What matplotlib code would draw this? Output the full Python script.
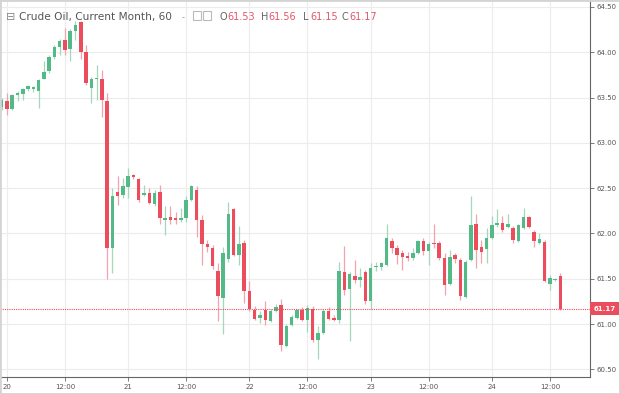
import numpy as np
import matplotlib.pyplot as plt
from matplotlib.patches import Rectangle
from matplotlib.transforms import IdentityTransform

# hourly candles, 23 bars per trading day
opens = [63.40, 63.46, 63.37, 63.53, 63.54, 63.59, 63.60, 63.57, 63.71, 63.79,
         63.95, 64.06, 64.14, 64.04, 64.23, 64.33, 64.00, 63.61, 63.70, 63.70,
         63.46, 61.84, 62.46, 62.43, 62.51, 62.64, 62.60, 62.43, 62.45, 62.32,
         62.46, 62.15, 62.18, 62.17, 62.15, 62.17, 62.37, 62.48, 62.15, 61.88,
         61.84, 61.59, 61.29, 61.72, 62.27, 61.76, 61.90, 61.36, 61.16, 61.07,
         61.15, 61.03, 61.14, 61.21, 60.76, 60.99, 61.07, 61.15, 61.05, 61.17,
         60.82, 60.90, 61.14, 61.07, 61.04, 61.57, 61.39, 61.53, 61.49, 61.58,
         61.25, 61.63, 61.63, 61.65, 61.92, 61.84, 61.78, 61.75, 61.73, 61.78,
         61.92, 61.81, 61.89, 61.89, 61.73, 61.44, 61.76, 61.71, 61.30, 61.71,
         62.10, 61.85, 61.83, 61.95, 62.09, 62.12, 62.07, 62.06, 61.92, 62.06,
         62.18, 62.02, 61.89, 61.91, 61.44, 61.49, 61.53]
highs = [63.49, 63.55, 63.54, 63.57, 63.61, 63.64, 63.63, 63.71, 63.90, 63.97,
         64.08, 64.15, 64.27, 64.26, 64.34, 64.35, 64.08, 63.73, 63.86, 63.80,
         63.55, 62.50, 62.63, 62.61, 62.72, 62.66, 62.61, 62.54, 62.50, 62.48,
         62.54, 62.30, 62.30, 62.24, 62.28, 62.41, 62.54, 62.52, 62.20, 61.93,
         61.87, 61.67, 61.85, 62.35, 62.28, 62.08, 61.93, 61.48, 61.20, 61.14,
         61.25, 61.17, 61.22, 61.28, 61.00, 61.10, 61.17, 61.19, 61.21, 61.20,
         60.98, 61.17, 61.19, 61.10, 61.69, 61.86, 61.58, 61.71, 61.62, 61.60,
         61.67, 61.69, 61.69, 62.10, 61.95, 61.87, 61.82, 61.80, 61.84, 61.93,
         61.95, 61.91, 62.10, 61.92, 61.78, 61.82, 61.78, 61.73, 61.71, 62.41,
         62.22, 61.93, 62.06, 62.19, 62.27, 62.19, 62.22, 62.08, 62.11, 62.28,
         62.19, 62.04, 62.00, 61.93, 61.54, 61.51, 61.56]
lows = [63.36, 63.31, 63.36, 63.46, 63.47, 63.57, 63.56, 63.38, 63.70, 63.77,
        63.93, 63.97, 63.97, 63.90, 64.14, 63.93, 63.64, 63.44, 63.47, 63.29,
        61.50, 61.56, 62.31, 62.39, 62.39, 62.60, 62.35, 62.41, 62.32, 62.30,
        62.11, 61.98, 62.11, 62.11, 62.13, 62.13, 62.36, 61.96, 61.65, 61.80,
        61.61, 61.03, 60.89, 61.69, 61.75, 61.65, 61.23, 61.14, 61.05, 61.01,
        60.99, 61.02, 61.13, 60.70, 60.75, 60.98, 61.06, 61.03, 60.91, 60.80,
        60.62, 60.89, 61.04, 61.03, 61.01, 61.32, 60.81, 61.45, 61.41, 61.22,
        61.17, 61.59, 61.60, 61.64, 61.78, 61.66, 61.60, 61.70, 61.71, 61.77,
        61.76, 61.65, 61.84, 61.71, 61.32, 61.43, 61.67, 61.27, 61.29, 61.70,
        61.62, 61.67, 61.67, 61.94, 62.07, 62.02, 62.06, 61.90, 61.91, 62.05,
        62.06, 61.85, 61.88, 61.46, 61.38, 61.48, 61.15]
closes = [63.47, 63.37, 63.53, 63.55, 63.59, 63.63, 63.61, 63.69, 63.78, 63.95,
          64.06, 64.12, 64.03, 64.23, 64.30, 64.00, 63.66, 63.71, 63.71, 63.47,
          61.84, 62.41, 62.41, 62.52, 62.63, 62.62, 62.37, 62.45, 62.34, 62.45,
          62.17, 62.17, 62.15, 62.15, 62.17, 62.37, 62.52, 62.15, 61.88, 61.85,
          61.64, 61.31, 61.78, 62.22, 61.76, 61.88, 61.36, 61.17, 61.06, 61.10,
          61.04, 61.14, 61.19, 60.77, 60.98, 61.08, 61.15, 61.04, 61.18, 60.82,
          60.90, 61.14, 61.06, 61.04, 61.59, 61.38, 61.55, 61.49, 61.52, 61.25,
          61.62, 61.64, 61.67, 61.95, 61.84, 61.76, 61.74, 61.73, 61.78, 61.92,
          61.81, 61.88, 61.88, 61.73, 61.43, 61.74, 61.72, 61.31, 61.69, 62.09,
          61.82, 61.80, 61.95, 62.09, 62.12, 62.04, 62.10, 61.93, 62.09, 62.18,
          62.07, 61.92, 61.94, 61.48, 61.51, 61.50, 61.17]

tick_bars = [1, 12, 24, 35, 47, 58, 70, 81, 93, 104]
tick_labels = ["20", "12:00", "21", "12:00", "22", "12:00", "23", "12:00", "24", "12:00"]
price_ticks = [60.5, 61.0, 61.5, 62.0, 62.5, 63.0, 63.5, 64.0, 64.5]
last_price = 61.17
title = "Crude Oil, Current Month, 60"
ohlc_keys = ["O", "H", "L", "C"]
ohlc_vals = ["61.53", "61.56", "61.15", "61.17"]

UP, DOWN = "#53b987", "#eb4d5c"
UP_WICK, DOWN_WICK = "#a3d8bd", "#f3a3ab"

W, H = 620, 394
fig = plt.figure(figsize=(W / 100, H / 100), dpi=100)
ax = fig.add_axes([0, 17 / H, 590 / W, 377 / H])

o, hi, lo, c = map(np.array, (opens, highs, lows, closes))
x = np.arange(len(o))
up = c >= o
ax.vlines(x, lo, hi, colors=np.where(up, UP_WICK, DOWN_WICK), lw=0.9, zorder=2)
ax.bar(x, np.maximum(np.abs(c - o), 0.012), bottom=np.minimum(o, c), width=0.66,
       color=np.where(up, UP, DOWN), lw=0, zorder=3)

ax.axhline(last_price, color=DOWN, ls=(0, (1, 1)), lw=0.8, zorder=4)

ax.set_xlim(-0.32, 111.6)
ax.set_ylim(60.416, 64.577)
ax.set_xticks(tick_bars, tick_labels)
ax.set_yticks(price_ticks, [f"{p:.2f}" for p in price_ticks])
ax.yaxis.tick_right()
ax.grid(color="#ececec", lw=0.8)
ax.set_axisbelow(True)
for s in ("top", "left"):
    ax.spines[s].set_visible(False)
for s in ("right", "bottom"):
    ax.spines[s].set_color("#666666")
    ax.spines[s].set_linewidth(0.8)
ax.tick_params(length=3, width=0.6, color="#666666", labelsize=5, labelcolor="#555555", pad=2)

# last price tag on the right scale
fig.canvas.draw()
_, yp = ax.transData.transform((0, last_price))
fig.add_artist(Rectangle((590, yp - 6.5), 29, 13, transform=IdentityTransform(),
                         fc=DOWN, ec="none"))
fig.text(604.5 / W, yp / H, f"{last_price:.2f}", color="white", fontsize=5,
         fontweight="bold", ha="center", va="center")

# header
ty = 1 - 20 / H
fig.text(6 / W, ty, "\u229f", fontsize=8, color="#888888", va="baseline")
fig.text(19 / W, ty, title, fontsize=7.6, color="#555555", va="baseline")
fig.text(182 / W, ty, "-", fontsize=6, color="#999999", va="baseline")
for bx in (193, 203):
    fig.add_artist(Rectangle((bx / W, 1 - 20 / H), 8 / W, 9 / H, transform=fig.transFigure,
                             fc="none", ec="#bbbbbb", lw=0.8))
for k, v, px in zip(ohlc_keys, ohlc_vals, (220, 261, 303, 342)):
    fig.text(px / W, ty, k, fontsize=7, color="#666666", va="baseline")
    fig.text((px + 7) / W, ty, v, fontsize=7, color="#e0586a", va="baseline")

fig.add_artist(Rectangle((0, 0), 1, 1, transform=fig.transFigure, fill=False,
                         ec="#d4d4d4", lw=2))

fig.savefig("out.png", dpi=100)
